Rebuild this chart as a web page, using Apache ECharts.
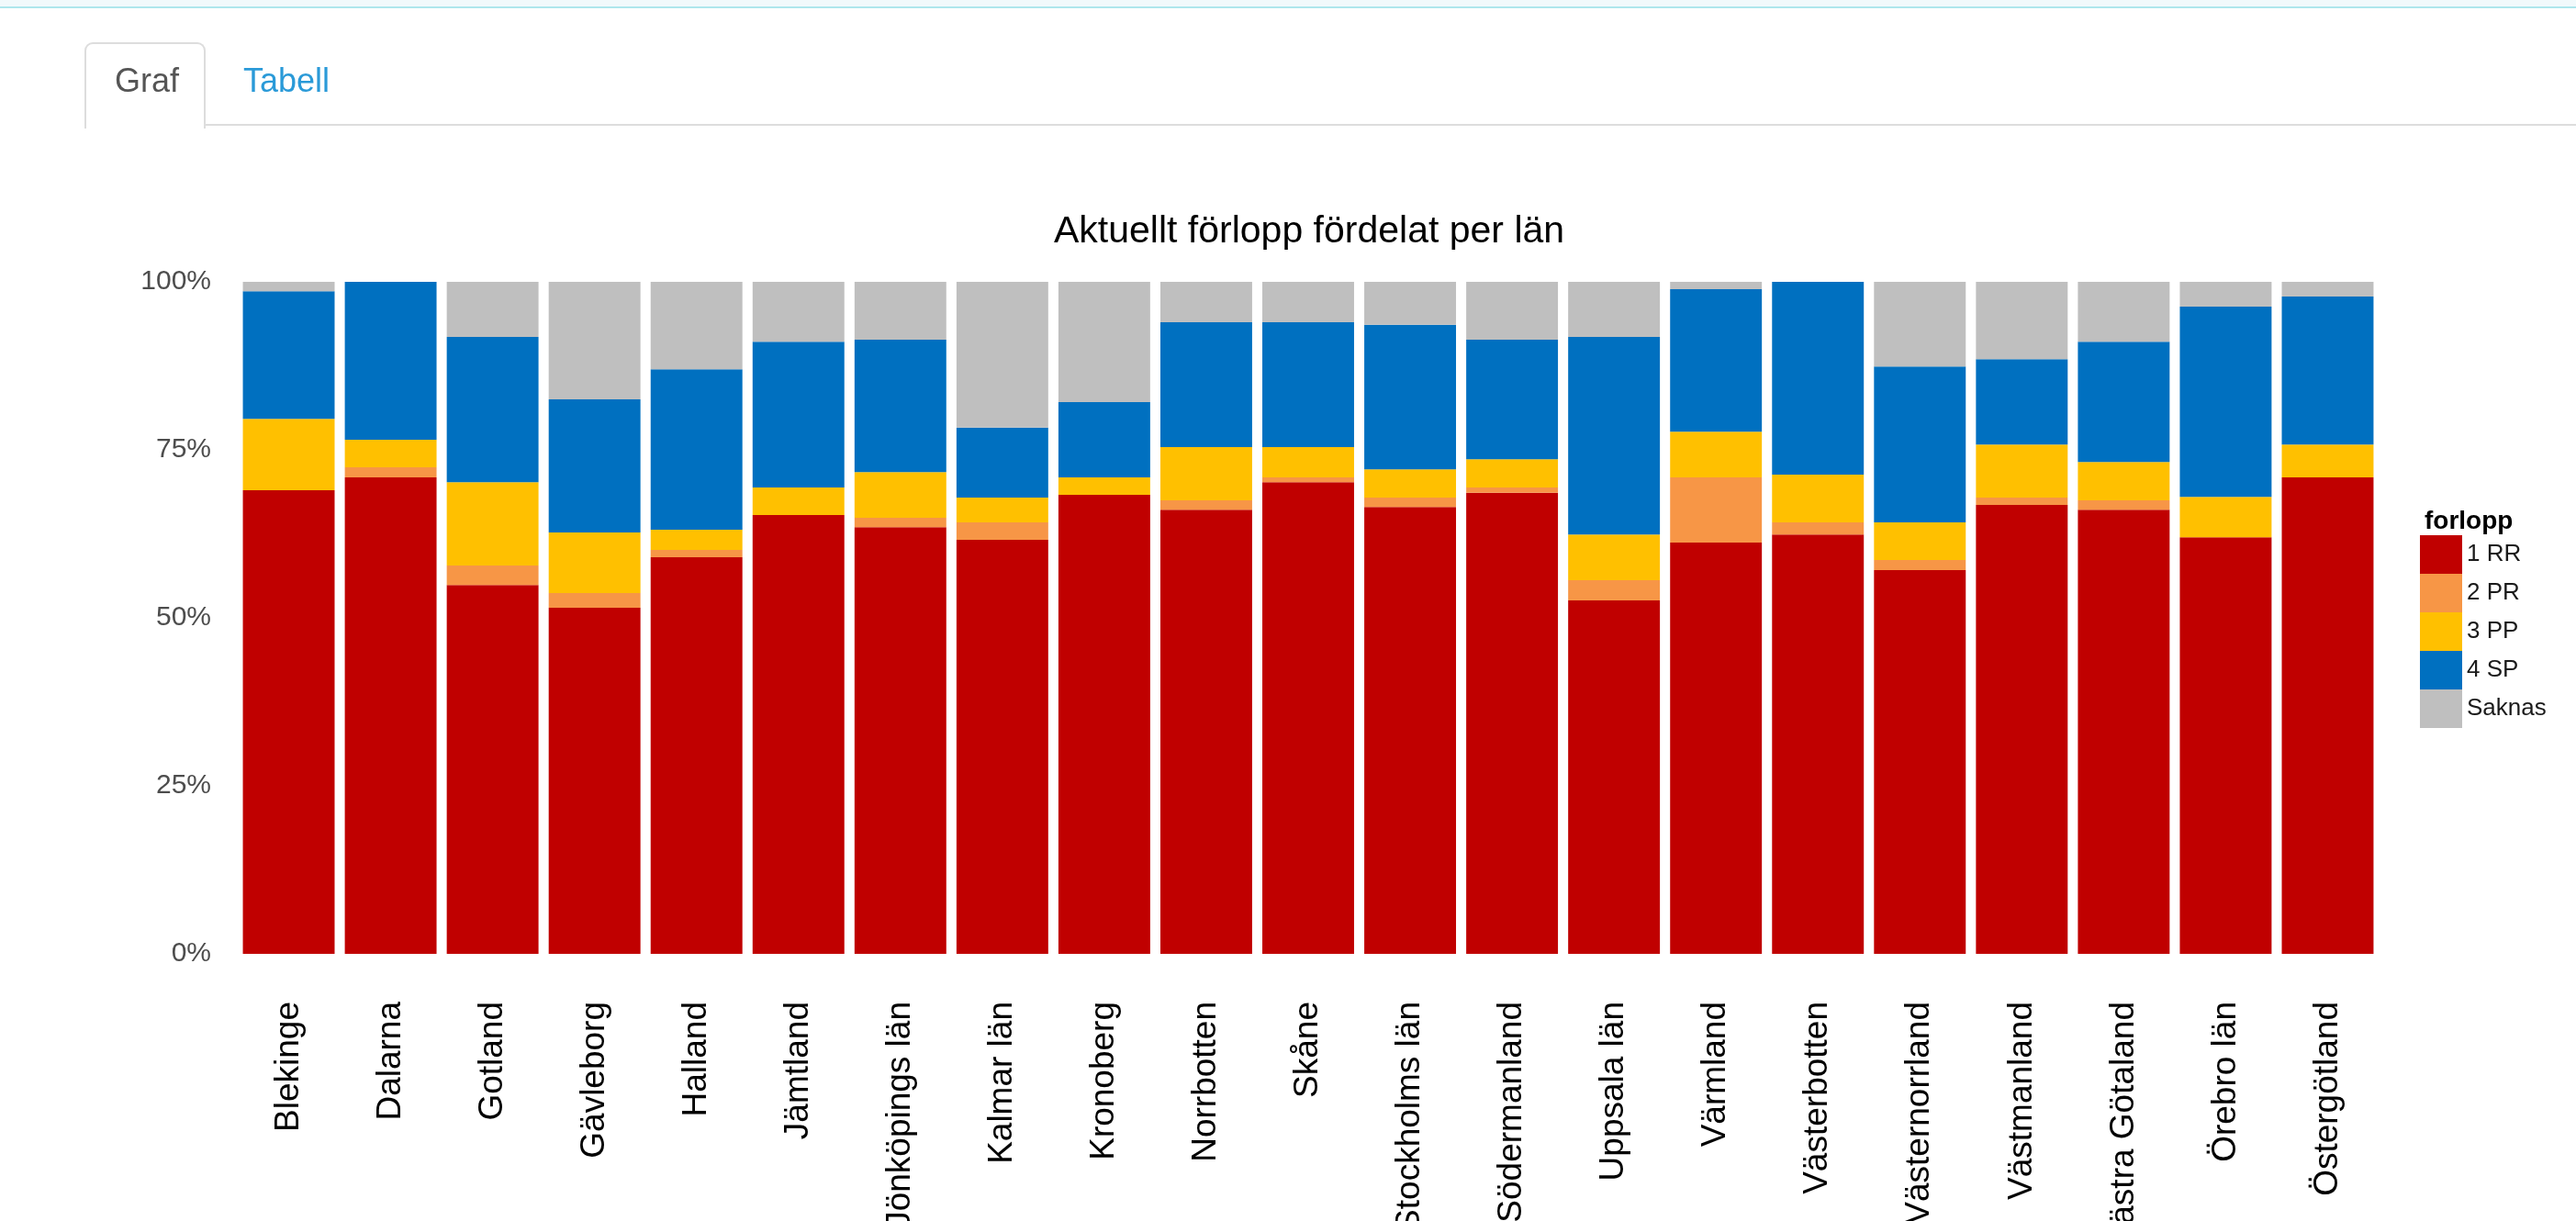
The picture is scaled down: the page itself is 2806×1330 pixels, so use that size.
<!DOCTYPE html>
<html>
<head>
<meta charset="utf-8">
<script src="https://cdn.jsdelivr.net/npm/echarts@6/dist/echarts.min.js"></script>
<style>
  html, body { margin: 0; padding: 0; background: #ffffff; width: 2806px; height: 1330px; overflow: hidden; font-family: 'Liberation Sans', Arial, Helvetica, sans-serif; }
  #topband { position: absolute; left: 0; top: 0; width: 2806px; height: 7px; background: #f1f9fb; border-bottom: 2px solid #aee6ec; }
  #tabline { position: absolute; left: 223px; top: 135px; width: 2583px; height: 0; border-top: 2px solid #dddddd; }
  #tab { position: absolute; left: 92px; top: 46px; width: 128px; height: 92px; border: 2px solid #dddddd; border-bottom: none; border-radius: 9px 9px 0 0; background: #fff; }
  .tabtxt { position: absolute; font-size: 36px; line-height: 36px; white-space: nowrap; }
  #graf { left: 125px; top: 70px; color: #555555; }
  #tabell { left: 265px; top: 70px; color: #2a9ad8; }
  #chart { position: absolute; left: 0; top: 0; width: 2806px; height: 1330px; }
</style>
</head>
<body>
<div id="chart"></div>
<div id="topband"></div>
<div id="tabline"></div>
<div id="tab"></div>
<div class="tabtxt" id="graf">Graf</div>
<div class="tabtxt" id="tabell">Tabell</div>
<script>
// Categories (län)
const categories = ['Blekinge','Dalarna','Gotland','Gävleborg','Halland','Jämtland','Jönköpings län','Kalmar län','Kronoberg','Norrbotten','Skåne','Stockholms län','Södermanland','Uppsala län','Värmland','Västerbotten','Västernorrland','Västmanland','Västra Götaland','Örebro län','Östergötland'];

// Share (%) per förlopp
const rr      = [69.0, 70.9, 54.9, 51.5, 59.0, 65.3, 63.5, 61.6, 68.3, 66.1, 70.2, 66.5, 68.6, 52.6, 61.2, 62.4, 57.1, 66.8, 66.1, 62.0, 70.9];
const pr      = [ 0.0,  1.5,  2.9,  2.2,  1.1,  0.0,  1.4,  2.6,  0.0,  1.4,  0.7,  1.4,  0.8,  3.0,  9.7,  1.8,  1.5,  1.1,  1.4,  0.0,  0.0];
const pp      = [10.6,  4.1, 12.4,  9.0,  3.0,  4.1,  6.8,  3.7,  2.6,  7.9,  4.5,  4.2,  4.2,  6.8,  6.8,  7.1,  5.6,  7.9,  5.7,  6.0,  4.9];
const sp      = [19.0, 23.5, 21.6, 19.8, 23.9, 21.7, 19.7, 10.4, 11.2, 18.6, 18.6, 21.5, 17.8, 29.4, 21.2, 28.7, 23.2, 12.7, 17.9, 28.3, 22.0];
const saknas  = [ 1.4,  0.0,  8.2, 17.5, 13.0,  8.9,  8.6, 21.7, 17.9,  6.0,  6.0,  6.4,  8.6,  8.2,  1.1,  0.0, 12.6, 11.5,  8.9,  3.7,  2.2];

const seriesNames = ['1 RR', '2 PR', '3 PP', '4 SP', 'Saknas'];
const seriesValues = [rr, pr, pp, sp, saknas];
const seriesColors = ['#C00000', '#F79646', '#FFC000', '#0070C0', '#BFBFBF'];
const yTicks = [0, 25, 50, 75, 100];

const FONT = "'Liberation Sans', Arial, Helvetica, sans-serif";

const chart = echarts.init(document.getElementById('chart'), null, { renderer: 'canvas', width: 2806, height: 1330 });
chart.setOption({
  animation: false,
  backgroundColor: 'transparent',
  textStyle: { fontFamily: FONT },
  title: [
    { text: 'Aktuellt förlopp fördelat per län', left: 1143, top: 227,
      textStyle: { fontSize: 41, fontWeight: 'normal', color: '#000000', fontFamily: FONT } },
    { text: 'forlopp', left: 2636, top: 549,
      textStyle: { fontSize: 28, fontWeight: 'bold', color: '#000000', fontFamily: FONT } }
  ],
  legend: {
    orient: 'vertical', left: 2636, top: 583,
    itemWidth: 46, itemHeight: 42, itemGap: 0, icon: 'rect',
    padding: 0,
    data: seriesNames,
    textStyle: { fontSize: 26, color: '#1a1a1a', fontFamily: FONT },
    selectedMode: false
  },
  grid: { left: 259, top: 307, width: 2332, height: 732, containLabel: false, outerBoundsMode: 'none' },
  xAxis: {
    type: 'category', data: categories,
    axisLine: { show: false }, axisTick: { show: false }, splitLine: { show: false },
    axisLabel: { interval: 0, rotate: 90, margin: 52, fontSize: 37, color: '#000000', fontFamily: FONT }
  },
  yAxis: {
    type: 'value', min: yTicks[0], max: yTicks[yTicks.length - 1], interval: 25,
    axisLine: { show: false }, axisTick: { show: false }, splitLine: { show: false },
    axisLabel: { margin: 29, fontSize: 30, color: '#4d4d4d', fontFamily: FONT, formatter: '{value}%' }
  },
  series: seriesNames.map((name, i) => ({
    name, type: 'bar', stack: 'total', data: seriesValues[i],
    barCategoryGap: '10%',
    itemStyle: { color: seriesColors[i] },
    emphasis: { disabled: true }
  }))
});
</script>
</body>
</html>
